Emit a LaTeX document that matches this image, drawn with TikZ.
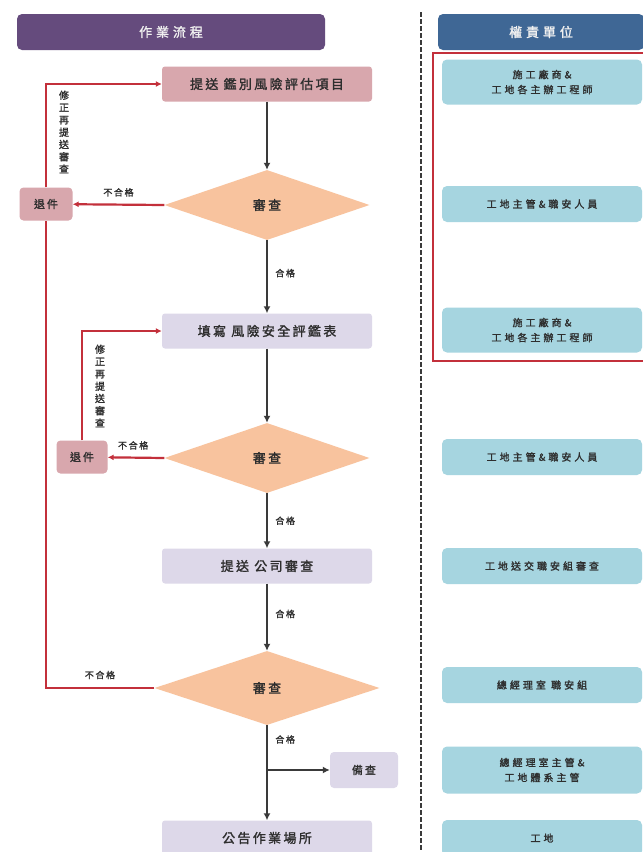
\documentclass[tikz,border=0pt]{standalone}
\usepackage{fontspec}
\newfontfamily\cjk[LetterSpace=18,FakeBold=1.6]{Noto Sans CJK TC}
\newfontfamily\cjks[LetterSpace=30,FakeBold=1.6]{Noto Sans CJK TC}
\usetikzlibrary{shapes.geometric,arrows.meta}
\definecolor{pinkc}{HTML}{D8A7AD}
\definecolor{lavc}{HTML}{DDD8E9}
\definecolor{peachc}{HTML}{F8C39E}
\definecolor{bluec}{HTML}{A6D5E0}
\definecolor{purph}{HTML}{654B7D}
\definecolor{blueh}{HTML}{3F6795}
\definecolor{redc}{HTML}{C3303B}
\definecolor{arrc}{HTML}{3A3A3A}
\definecolor{txtc}{HTML}{2E2E2E}
\tikzset{
  flowbox/.style={rounded corners=3pt, minimum width=210pt, minimum height=35pt, inner sep=0pt, text=txtc, font=\cjk\fontsize{13}{15}\selectfont},
  pinkbox/.style={flowbox, fill=pinkc},
  lavbox/.style={flowbox, fill=lavc},
  smallbox/.style={rounded corners=4pt, minimum width=52pt, minimum height=33pt, inner sep=0pt, text=txtc, font=\cjk\fontsize{11}{13}\selectfont},
  check/.style={diamond, fill=peachc, minimum width=205pt, minimum height=70pt, inner sep=0pt, text=txtc, font=\cjk\fontsize{13}{15}\selectfont},
  rolebox/.style={rounded corners=5pt, fill=bluec, minimum width=200pt, inner sep=0pt, text=txtc, align=center, font=\cjks\fontsize{10}{15}\selectfont},
  header/.style={rounded corners=5pt, minimum height=36pt, inner sep=0pt, text=white!88!gray, font=\cjks\fontsize{13}{15}\selectfont},
  lbl/.style={text=txtc, inner sep=1pt, font=\cjk\fontsize{9}{11}\selectfont},
  vlbl/.style={text=txtc, inner sep=0pt, align=center, font=\cjk\fontsize{10}{12.3}\selectfont},
  flowarr/.style={draw=arrc, line width=2.8pt, -{Latex[length=7pt,width=7pt]}},
  redarr/.style={draw=redc, line width=2.2pt, -{Latex[length=6pt,width=6pt]}},
  redline/.style={draw=redc, line width=2.2pt},
}
\begin{document}
\begin{tikzpicture}[x=1pt,y=-1pt]
\useasboundingbox (0,0) rectangle (643,852);
\clip (0,0) rectangle (643,852);
\fill[white] (0,0) rectangle (643,852);

% headers
\node[header, fill=purph, minimum width=308pt] (hl) at (171,32) {作業流程};
\node[header, fill=blueh, minimum width=206pt] (hr) at (541,32) {權責單位};

% divider
\coordinate (d1) at (421,12);
\coordinate (d2) at (421,860);
\draw[draw=arrc, line width=2.6pt, dash pattern=on 5pt off 2pt] (d1) -- (d2);

% red frame
\coordinate (f1) at (660,53);
\coordinate (f2) at (433,53);
\coordinate (f3) at (433,361);
\coordinate (f4) at (660,361);
\draw[redline] (f1) -- (f2) -- (f3) -- (f4);

% role boxes
\node[rolebox, minimum height=45pt] (r1) at (542,82) {施工廠商\&\\工地各主辦工程師};
\node[rolebox, minimum height=36pt] (r2) at (542,204) {工地主管\&職安人員};
\node[rolebox, minimum height=45pt] (r3) at (542,330) {施工廠商\&\\工地各主辦工程師};
\node[rolebox, minimum height=36pt] (r4) at (542,457) {工地主管\&職安人員};
\node[rolebox, minimum height=36pt] (r5) at (542,566) {工地送交職安組審查};
\node[rolebox, minimum height=36pt] (r6) at (542,685) {總經理室 職安組};
\node[rolebox, minimum height=47pt] (r7) at (542,770) {總經理室主管\&\\工地體系主管};
\node[rolebox, minimum height=36pt] (r8) at (542,838) {工地};

% flow nodes
\node[pinkbox] (a) at (267,84) {提送 鑑別風險評估項目};
\node[check] (q1) at (267,205) {審查};
\node[smallbox, fill=pinkc, minimum width=53pt] (rej1) at (46,204) {退件};
\node[lavbox] (b) at (267,331) {填寫 風險安全評鑑表};
\node[check] (q2) at (267,458) {審查};
\node[smallbox, fill=pinkc, minimum width=51pt] (rej2) at (82,457) {退件};
\node[lavbox] (c) at (267,566) {提送 公司審查};
\node[check, minimum width=225pt, minimum height=74pt] (q3) at (267,688) {審查};
\node[smallbox, fill=lavc, minimum width=68pt, minimum height=36pt] (keep) at (364,770) {備查};
\node[lavbox] (e) at (267,838) {公告作業場所};

% main flow arrows
\draw[flowarr] (a) -- (q1);
\draw[flowarr] (q1) -- (b) node[lbl, pos=0.45, right=6pt] {合格};
\draw[flowarr] (b) -- (q2);
\draw[flowarr] (q2) -- (c) node[lbl, pos=0.5, right=6pt] {合格};
\draw[flowarr] (c) -- (q3) node[lbl, pos=0.45, right=6pt] {合格};
\draw[flowarr] (q3) -- (e) node[lbl, pos=0.15, right=6pt] {合格};
\coordinate (br) at (267,770);
\draw[flowarr] (br) -- (keep);

% reject loops
\draw[redarr] (q1.west) -- (rej1) node[lbl, midway, above=6pt] {不合格};
\draw[redarr] (rej1.north) |- (a.west);
\node[vlbl] (v1) at (64,132) {修\\正\\再\\提\\送\\審\\查};
\draw[redarr] (q2.west) -- (rej2) node[lbl, pos=0.55, above=6pt] {不合格};
\draw[redarr] (rej2.north) |- (b.west);
\node[vlbl] (v2) at (100,386) {修\\正\\再\\提\\送\\審\\查};
\draw[redline] (q3.west) -| (rej1.south);
\node[lbl] (l3) at (100,675) {不合格};
\end{tikzpicture}
\end{document}
